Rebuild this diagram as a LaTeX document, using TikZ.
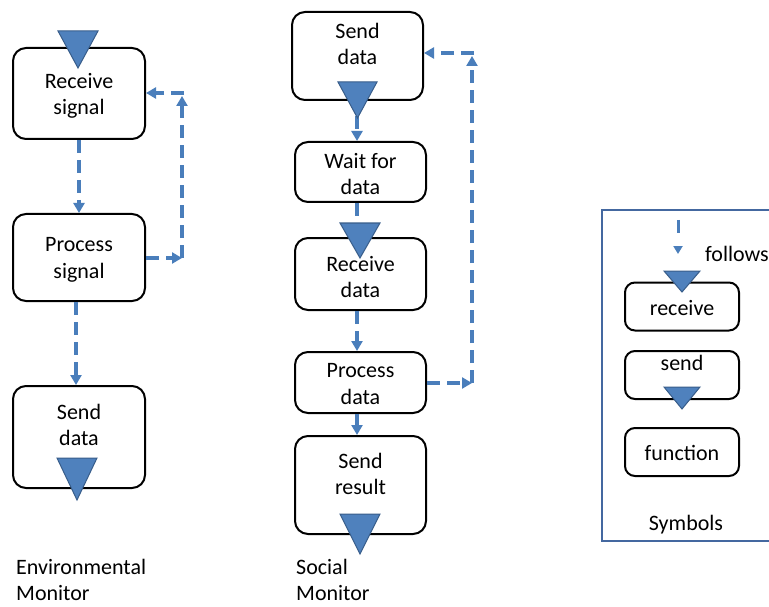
\documentclass[tikz,border=0pt]{standalone}
\usepackage{fontspec}
\setmainfont{Carlito}
\usetikzlibrary{arrows.meta,calc}
\definecolor{flowblue}{HTML}{4A7EBB}
\definecolor{markfill}{HTML}{4F81BD}
\definecolor{markedge}{HTML}{385D8A}
\definecolor{panelblue}{HTML}{4468A0}

\begin{document}
\begin{tikzpicture}[x=1pt,y=-1pt,
  box/.style={draw=black, line width=2pt, rounded corners=13pt, inner sep=0pt, fill=white},
  smallbox/.style={box, rounded corners=10pt, minimum width=114pt, minimum height=48pt},
  txt/.style={align=center, inner sep=0pt, font=\fontsize{22}{26.5}\selectfont},
  flow/.style={draw=flowblue, line width=3.2pt, dash pattern=on 13pt off 7pt,
    -{Triangle[length=10pt,width=11pt]}},
  flowline/.style={draw=flowblue, line width=3.2pt, dash pattern=on 13pt off 7pt},
  marker/.style={fill=markfill, draw=markedge, line width=1pt, line join=miter},
]
\useasboundingbox (0,0) rectangle (769,607);

% ---------- Environmental monitor ----------
\node[box, minimum width=132pt, minimum height=91pt] (rs) at (79,93.5) {};
\node[box, minimum width=132pt, minimum height=87pt] (ps) at (79,257.5) {};
\node[box, minimum width=132pt, minimum height=102pt] (sd) at (79,437) {};
\node[txt] (rs-t) at (79,96) {Receive\\signal};
\node[txt] (ps-t) at (79,260) {Process\\signal};
\node[txt] (sd-t) at (79,425) {Send\\data};

\coordinate (l1) at (182,258);
\coordinate (l2) at (182,96);
\coordinate (l3) at (184,93);

\draw[flow] (rs.south) -- (ps.north);
\draw[flow] ($(ps.south)+(-3,0)$) -- ($(sd.north)+(-3,0)$);
\draw[flow] (ps.east |- l1) -- (l1);
\draw[flow] (l1) -- (l2);
\draw[flow] (l3) -- (rs.east |- l3);

\draw[marker] (58,31) -- (98,31) -- (78,68) -- cycle;
\draw[marker] (57,458) -- (97,458) -- (77,500) -- cycle;

\node[txt, anchor=west, align=left] (cap1) at (16,580) {Environmental\\Monitor};

% ---------- Social monitor ----------
\node[box, minimum width=131pt, minimum height=88pt] (sd2) at (357.5,56) {};
\node[box, minimum width=131pt, minimum height=60pt] (wd) at (360.5,172) {};
\node[box, minimum width=131pt, minimum height=72pt] (rd) at (360.5,274) {};
\node[box, minimum width=131pt, minimum height=61pt] (pd) at (360.5,382.5) {};
\node[box, minimum width=131pt, minimum height=98pt] (sr) at (360.5,485) {};
\node[txt] (sd2-t) at (357.5,44) {Send\\data};
\node[txt] (wd-t) at (360.5,174) {Wait for\\data};
\node[txt] (rd-t) at (360.5,277) {Receive\\data};
\node[txt] (pd-t) at (360.5,384) {Process\\data};
\node[txt] (sr-t) at (360.5,474) {Send\\result};

\coordinate (mx) at (357,0);
\coordinate (sd2tip) at (357,116);
\coordinate (rdtop) at (357,230);
\coordinate (m1) at (472,383);
\coordinate (m2) at (472,56);
\coordinate (m3) at (474,53);

\draw[flow] (sd2tip) -- (wd.north -| mx);
\draw[flowline] (wd.south -| mx) -- (rdtop);
\draw[flow] (rd.south -| mx) -- (pd.north -| mx);
\draw[flow] (pd.south -| mx) -- (sr.north -| mx);
\draw[flow] (pd.east |- m1) -- (m1);
\draw[flow] (m1) -- (m2);
\draw[flow] (m3) -- (sd2.east |- m3);

\draw[marker] (338,82) -- (377,82) -- (357.5,118) -- cycle;
\draw[marker] (340,223) -- (380,223) -- (360,258) -- cycle;
\draw[marker] (340,514) -- (380,514) -- (360,554) -- cycle;

\node[txt, anchor=west, align=left] (cap2) at (296,580) {Social\\Monitor};

% ---------- Symbols legend ----------
\draw[panelblue, line width=2pt] (790,210) -- (602,210) -- (602,541) -- (790,541);

\coordinate (f1) at (678,220);
\coordinate (f2) at (678,254);
\draw[draw=flowblue, line width=3pt, dash pattern=on 13pt off 14pt,
  -{Triangle[length=8pt,width=9pt]}] (f1) -- (f2);
\node[txt, anchor=west] (fol) at (705,254) {follows};

\node[smallbox] (sy-r) at (682,306.5) {};
\node[smallbox] (sy-s) at (682,375) {};
\node[smallbox] (sy-f) at (682,452) {};
\node[txt] (sy-r-t) at (682,308) {receive};
\node[txt] (sy-s-t) at (682,363) {send};
\node[txt] (sy-f-t) at (682,453) {function};
\draw[marker] (664,271) -- (700,271) -- (682,292) -- cycle;
\draw[marker] (664,387) -- (700,387) -- (682,409) -- cycle;

\node[txt] (sym) at (686,525) {Symbols};
\end{tikzpicture}
\end{document}
